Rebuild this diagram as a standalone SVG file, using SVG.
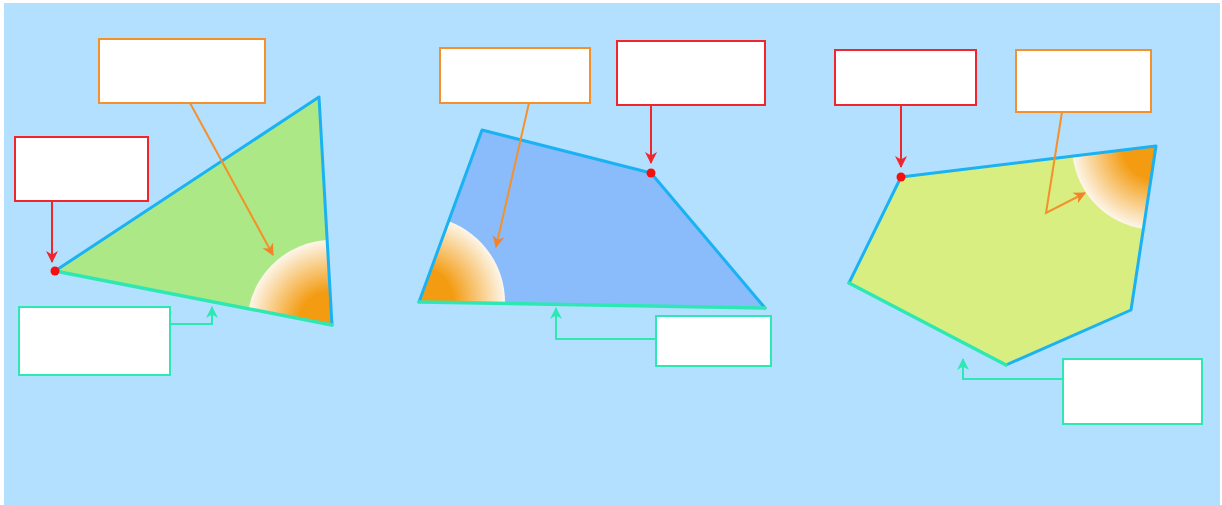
<svg xmlns="http://www.w3.org/2000/svg" width="1222" height="505" viewBox="0 0 1222 505">
<style>
.box{fill:#ffffff;stroke-width:2}
.red{stroke:#f0262e}
.org{stroke:#f5902a}
.teal{stroke:#2ee8b4}
.edge{fill:none;stroke:#1ab2f2;stroke-width:3;stroke-linejoin:round;stroke-linecap:round}
.base{fill:none;stroke:#2ee8b4;stroke-width:3.5;stroke-linecap:round}
.con{fill:none;stroke-width:2}
</style>
<defs>
<marker id="mRed" markerUnits="userSpaceOnUse" markerWidth="14" markerHeight="14" refX="11" refY="7" orient="auto"><path d="M0,1 L12,7 L0,13 L3.5,7 Z" fill="#f0262e"/></marker>
<marker id="mOrg" markerUnits="userSpaceOnUse" markerWidth="14" markerHeight="14" refX="11" refY="7" orient="auto"><path d="M0,1 L12,7 L0,13 L3.5,7 Z" fill="#f5822a"/></marker>
<marker id="mTeal" markerUnits="userSpaceOnUse" markerWidth="14" markerHeight="14" refX="11" refY="7" orient="auto"><path d="M0,1 L12,7 L0,13 L3.5,7 Z" fill="#2ee8b4"/></marker>
<radialGradient id="g1" gradientUnits="userSpaceOnUse" cx="332" cy="325" r="85"><stop offset="0" stop-color="#f39c12"/><stop offset="0.4" stop-color="#f39c12"/><stop offset="1" stop-color="#fdf6ea"/></radialGradient>
<radialGradient id="g2" gradientUnits="userSpaceOnUse" cx="419" cy="302" r="86"><stop offset="0" stop-color="#f39c12"/><stop offset="0.4" stop-color="#f39c12"/><stop offset="1" stop-color="#fdf6ea"/></radialGradient>
<radialGradient id="g3" gradientUnits="userSpaceOnUse" cx="1156" cy="146" r="84"><stop offset="0" stop-color="#f39c12"/><stop offset="0.4" stop-color="#f39c12"/><stop offset="1" stop-color="#fdf6ea"/></radialGradient>
</defs>
<rect x="4" y="3" width="1216" height="502" fill="#b2e0fe"/>

<g id="shape1">
<polygon points="55,271 319,97 332,325" fill="#ade886"/>
<path d="M332,325 L248.6,308.7 A85,85 0 0 1 327.2,240.1 Z" fill="url(#g1)"/>
<polyline class="edge" points="55,271 319,97 332,325"/>
<line class="base" x1="55" y1="271" x2="332" y2="325"/>
<circle cx="55" cy="271" r="4.5" fill="#f51010"/>
</g>
<g id="shape2">
<polygon points="482,130 651,173 765,308 419,302" fill="#8abcfc"/>
<path d="M419,302 L505,303.5 A86,86 0 0 0 448.6,221.3 Z" fill="url(#g2)"/>
<polyline class="edge" points="419,302 482,130 651,173 765,308"/>
<line class="base" x1="765" y1="308" x2="419" y2="302"/>
<circle cx="651" cy="173" r="4.5" fill="#f51010"/>
</g>
<g id="shape3">
<polygon points="901,177 1156,146 1131,310 1006,365 849,283" fill="#d8ee80"/>
<path d="M1156,146 L1072.6,156.1 A84,84 0 0 0 1143.3,229 Z" fill="url(#g3)"/>
<polyline class="edge" points="1006,365 1131,310 1156,146 901,177 849,283"/>
<line class="base" x1="849" y1="283" x2="1006" y2="365"/>
<circle cx="901" cy="177" r="4.5" fill="#f51010"/>
</g>

<g id="box1-orange"><rect class="box org" x="99" y="39" width="166" height="64"/></g>
<g id="box1-red"><rect class="box red" x="15" y="137" width="133" height="64"/></g>
<g id="box1-teal"><rect class="box teal" x="19" y="307" width="151" height="68"/></g>
<g id="box2-orange"><rect class="box org" x="440" y="48" width="150" height="55"/></g>
<g id="box2-red"><rect class="box red" x="617" y="41" width="148" height="64"/></g>
<g id="box2-teal"><rect class="box teal" x="656" y="316" width="115" height="50"/></g>
<g id="box3-red"><rect class="box red" x="835" y="50" width="141" height="55"/></g>
<g id="box3-orange"><rect class="box org" x="1016" y="50" width="135" height="62"/></g>
<g id="box3-teal"><rect class="box teal" x="1063" y="359" width="139" height="65"/></g>

<g id="connectors">
<polyline class="con" stroke="#f0262e" points="52,201 52,262" marker-end="url(#mRed)"/>
<polyline class="con" stroke="#f5902a" points="190,103 273,255" marker-end="url(#mOrg)"/>
<polyline class="con" stroke="#2ee8b4" points="170,324 212,324 212,307" marker-end="url(#mTeal)"/>
<polyline class="con" stroke="#f0262e" points="651,105 651,163" marker-end="url(#mRed)"/>
<polyline class="con" stroke="#f5902a" points="529,103 496,247" marker-end="url(#mOrg)"/>
<polyline class="con" stroke="#2ee8b4" points="656,339 556,339 556,308" marker-end="url(#mTeal)"/>
<polyline class="con" stroke="#f0262e" points="901,105 901,167" marker-end="url(#mRed)"/>
<polyline class="con" stroke="#f5902a" stroke-width="2.5" points="1062,112 1046,213 1085,193" marker-end="url(#mOrg)"/>
<polyline class="con" stroke="#2ee8b4" points="1063,379 963,379 963,359" marker-end="url(#mTeal)"/>
</g>
</svg>
